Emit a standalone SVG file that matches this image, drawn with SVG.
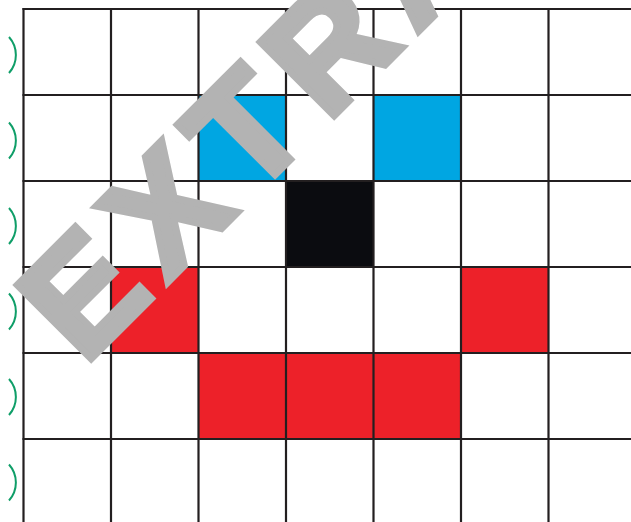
<svg xmlns="http://www.w3.org/2000/svg" width="631" height="522" viewBox="0 0 631 522">
<style>
.cell{stroke:none}
.blue{fill:#00a6e2}
.black{fill:#0b0c10}
.red{fill:#ed2129}
.grid{stroke:#231f20;stroke-width:2.2;fill:none}
.arc{stroke:#0f9e68;stroke-width:2;fill:none}
.wm{font-family:"Liberation Sans",Arial,sans-serif;font-weight:bold;font-size:152px;fill:#b3b3b3;stroke:#b3b3b3;stroke-width:7;stroke-linejoin:miter;letter-spacing:16px}
</style>
<rect width="631" height="522" fill="#ffffff"/>
<g id="cells">
<rect class="cell blue" x="198.5" y="95" width="87.5" height="86"/>
<rect class="cell blue" x="373.5" y="95" width="87.5" height="86"/>
<rect class="cell black" x="286" y="181" width="87.5" height="86"/>
<rect class="cell red" x="111" y="267" width="87.5" height="86"/>
<rect class="cell red" x="461" y="267" width="87.5" height="86"/>
<rect class="cell red" x="198.5" y="353" width="262.5" height="86"/>
</g>
<g id="grid" class="grid">
<path d="M23.5,8V522M111,8V522M198.5,8V522M286,8V522M373.5,8V522M461,8V522M548.5,8V522"/>
<path d="M22.5,9H631M22.5,95H631M22.5,181H631M22.5,267H631M22.5,353H631M22.5,439H631"/>
</g>
<g id="marks" class="arc">
<path d="M9,37A27,27 0 0 1 9,73"/>
<path d="M9,122.5A27,27 0 0 1 9,158.5"/>
<path d="M9,208A27,27 0 0 1 9,244"/>
<path d="M9,293.5A27,27 0 0 1 9,329.5"/>
<path d="M9,379A27,27 0 0 1 9,415"/>
<path d="M9,464.5A27,27 0 0 1 9,500.5"/>
</g>
<g id="watermark">
<text class="wm" transform="translate(84,366) rotate(-45)" x="0" y="0">EXTRA</text>
</g>
</svg>
